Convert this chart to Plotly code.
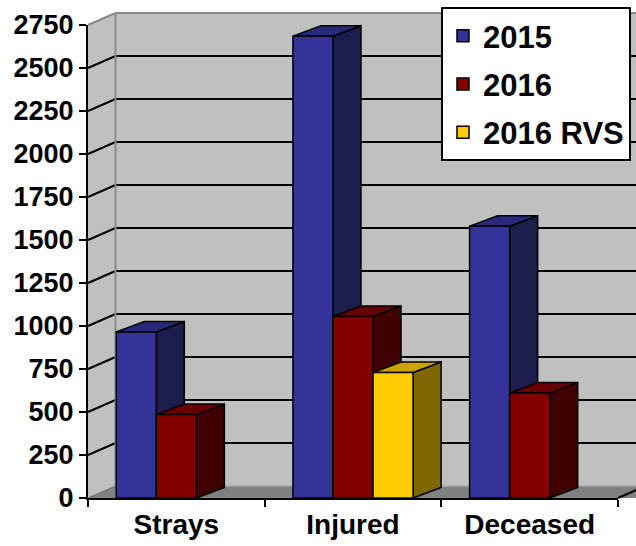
import plotly.graph_objects as go

# ---------------- data ----------------
categories = ["Strays", "Injured", "Deceased"]
series_names = ["2015", "2016", "2016 RVS"]
values_2015 = [965, 2685, 1580]
values_2016 = [485, 1055, 610]
values_2016_rvs = [None, 730, None]
y_tick_values = [0, 250, 500, 750, 1000, 1250, 1500, 1750, 2000, 2250, 2500, 2750]

series_values = [values_2015, values_2016, values_2016_rvs]

# ---------------- style ----------------
W, H = 636, 546
ML, MR, MT, MB = 88, 18, 25, 48
PW = W - ML - MR
PH = H - MT - MB
Y_MAX = y_tick_values[-1]
BARGAP = 0.32
WALL_DX, WALL_DY = 27.5, 12.0
BAR_DX, BAR_DY = 28.0, 10.5
FONT = "Arial, Liberation Sans, sans-serif"

front_colors = ["#333399", "#800000", "#FFCC00"]
side_colors = ["#1C1C4D", "#400000", "#806600"]
top_colors = ["#29297A", "#660000", "#CCA300"]
WALL = "#C0C0C0"
FLOOR = "#808080"
EDGE_GRAY = "#8A8A8A"

n_cat = len(categories)
n_ser = len(series_names)


def xp(u):
    """data x (category units) -> paper x"""
    return (u + 0.5) / n_cat


def yp(v):
    return v / Y_MAX


def ox(px):
    return px / PW


def oy(px):
    return px / PH


def path(points):
    return "M " + " L ".join(f"{x:.5f},{y:.5f}" for x, y in points) + " Z"


shapes = []

# back wall
bx0, by0 = ox(WALL_DX), oy(WALL_DY)
shapes.append(dict(type="path", xref="paper", yref="paper", layer="below",
                   path=path([(bx0, by0), (1 + bx0 + 0.1, by0), (1 + bx0 + 0.1, 1 + by0), (bx0, 1 + by0)]),
                   fillcolor=WALL, line=dict(width=0)))
# side wall
shapes.append(dict(type="path", xref="paper", yref="paper", layer="below",
                   path=path([(0, 0), (bx0, by0), (bx0, 1 + by0), (0, 1)]),
                   fillcolor=WALL, line=dict(width=0)))
# floor
shapes.append(dict(type="path", xref="paper", yref="paper", layer="below",
                   path=path([(0, 0), (bx0, by0), (1 + bx0 + 0.1, by0), (1 + 0.1, 0)]),
                   fillcolor=FLOOR, line=dict(width=0)))
# floor back edge (light)
shapes.append(dict(type="line", xref="paper", yref="paper", layer="below",
                   x0=bx0, y0=by0, x1=1 + bx0 + 0.1, y1=by0,
                   line=dict(color="#A8A8A8", width=1.5)))
# floor left diagonal
shapes.append(dict(type="line", xref="paper", yref="paper", layer="below",
                   x0=0, y0=0, x1=bx0, y1=by0, line=dict(color="#6A6A6A", width=1)))
# floor right diagonal (black)
shapes.append(dict(type="line", xref="paper", yref="paper", layer="below",
                   x0=1, y0=0, x1=1 + bx0, y1=by0, line=dict(color="black", width=2)))

# gridlines on back wall + diagonals on side wall
for t in y_tick_values[1:-1]:
    y = yp(t)
    shapes.append(dict(type="line", xref="paper", yref="paper", layer="below",
                       x0=0, y0=y, x1=bx0, y1=y + by0, line=dict(color="black", width=2)))
    shapes.append(dict(type="line", xref="paper", yref="paper", layer="below",
                       x0=bx0, y0=y + by0, x1=1 + bx0 + 0.1, y1=y + by0, line=dict(color="black", width=2)))

# top edges of walls and back-left corner (gray)
shapes.append(dict(type="line", xref="paper", yref="paper", layer="below",
                   x0=0, y0=1, x1=bx0, y1=1 + by0, line=dict(color=EDGE_GRAY, width=2)))
shapes.append(dict(type="line", xref="paper", yref="paper", layer="below",
                   x0=bx0, y0=1 + by0, x1=1 + bx0 + 0.1, y1=1 + by0, line=dict(color=EDGE_GRAY, width=2)))
shapes.append(dict(type="line", xref="paper", yref="paper", layer="below",
                   x0=bx0, y0=by0, x1=bx0, y1=1 + by0, line=dict(color=EDGE_GRAY, width=2)))

# 3D side and top faces of bars (front faces are the bar traces)
group_w = 1 - BARGAP
bar_w = group_w / n_ser
ddx, ddy = ox(BAR_DX), oy(BAR_DY)
for i in range(n_cat):
    for k in range(n_ser):
        v = series_values[k][i]
        if v is None:
            continue
        xl = xp(i - group_w / 2 + k * bar_w)
        xr = xp(i - group_w / 2 + (k + 1) * bar_w)
        yt = yp(v)
        shapes.append(dict(type="path", xref="paper", yref="paper", layer="below",
                           path=path([(xr, 0), (xr + ddx, ddy), (xr + ddx, yt + ddy), (xr, yt)]),
                           fillcolor=side_colors[k], line=dict(color="black", width=1.5)))
        shapes.append(dict(type="path", xref="paper", yref="paper", layer="below",
                           path=path([(xl, yt), (xl + ddx, yt + ddy), (xr + ddx, yt + ddy), (xr, yt)]),
                           fillcolor=top_colors[k], line=dict(color="black", width=1.5)))

fig = go.Figure()
for k in range(n_ser):
    fig.add_trace(go.Bar(
        x=categories, y=series_values[k], name=series_names[k],
        legendgroup=series_names[k],
        marker=dict(color=front_colors[k], line=dict(color="black", width=1.5)),
        hoverinfo="x+y+name",
    ))

fig.update_layout(
    width=W, height=H,
    margin=dict(l=ML, r=MR, t=MT, b=MB, pad=0, autoexpand=False),
    paper_bgcolor="white",
    plot_bgcolor="rgba(0,0,0,0)",
    barmode="group", bargap=BARGAP, bargroupgap=0,
    shapes=shapes,
    font=dict(family=FONT, color="black"),
    showlegend=True,
    legend=dict(
        xref="container", yref="container",
        x=441 / W, y=1 - 7 / H, xanchor="left", yanchor="top",
        bgcolor="white", bordercolor="black", borderwidth=2,
        font=dict(family=FONT, size=31, color="black", weight="bold"),
        tracegroupgap=5, traceorder="grouped",
    ),
    xaxis=dict(
        type="category", range=[-0.5, n_cat - 0.5], automargin=False,
        showline=True, linecolor="black", linewidth=2,
        ticks="outside", ticklen=7, tickwidth=2, tickcolor="black",
        tickson="boundaries", showgrid=False, zeroline=False,
        tickfont=dict(family=FONT, size=28, color="black", weight="bold"),
        fixedrange=True,
    ),
    yaxis=dict(
        range=[0, Y_MAX], tickmode="array", tickvals=y_tick_values, automargin=False,
        ticktext=[str(t) for t in y_tick_values],
        showline=True, linecolor="black", linewidth=2,
        ticks="outside", ticklen=7, tickwidth=2, tickcolor="black",
        showgrid=False, zeroline=False,
        tickfont=dict(family=FONT, size=27, color="black", weight="bold"),
        fixedrange=True,
    ),
)

fig.write_html("out.html", config={"displayModeBar": False},
               post_script="document.body.style.margin='0px';")
